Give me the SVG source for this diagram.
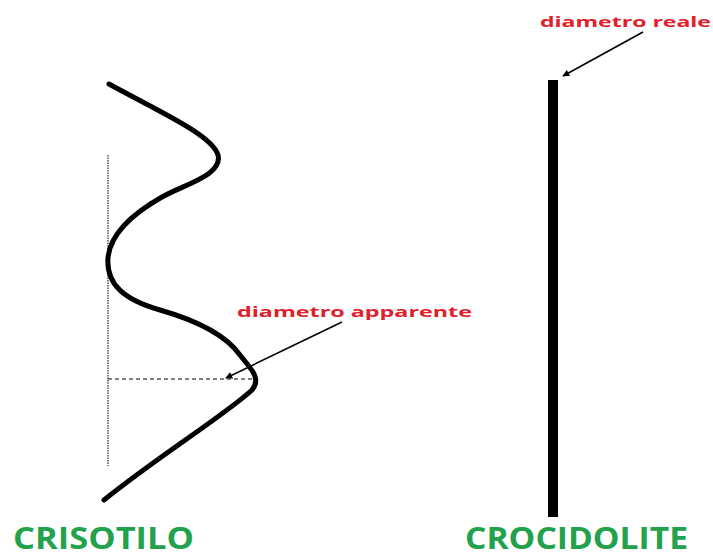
<svg xmlns="http://www.w3.org/2000/svg" width="713" height="559" viewBox="0 0 713 559">
<defs>
<style>
.lbl{font-family:"Open Sans","Liberation Sans",sans-serif;font-weight:bold;fill:#e0202a;font-size:14.5px}
.title{font-family:"Open Sans","Liberation Sans",sans-serif;font-weight:bold;fill:#22a24c;font-size:30px}
.arr{stroke:#000;stroke-width:1.6;fill:none;marker-end:url(#ah)}
</style>
<marker id="ah" viewBox="0 0 10 10" refX="9" refY="5" markerWidth="7" markerHeight="7" orient="auto" markerUnits="userSpaceOnUse">
<path d="M0,0 L10,5 L0,10 z" fill="#000"/>
</marker>
</defs>
<rect width="713" height="559" fill="#fff"/>
<g id="crisotilo">
<line x1="108" y1="155" x2="108" y2="466" stroke="#000" stroke-width="1" stroke-dasharray="1.5,1"/>
<line x1="108" y1="379" x2="257" y2="379" stroke="#000" stroke-width="1" stroke-dasharray="4,3"/>
<path d="M109,84 C160,112 212,135 218,155 C223,175 185,184 162,197 C132,214 110,235 108,258 C106,285 125,300 160,310 C195,320 225,334 240,355 C250,368 262,378 252,390 C225,415 160,455 104,500" fill="none" stroke="#000" stroke-width="5" stroke-linecap="round"/>
<text class="title" x="13" y="549" textLength="181" lengthAdjust="spacingAndGlyphs">CRISOTILO</text>
</g>
<g id="crocidolite">
<rect x="548" y="80" width="10" height="437" fill="#000"/>
<text class="title" x="465" y="549" textLength="223" lengthAdjust="spacingAndGlyphs">CROCIDOLITE</text>
</g>
<g id="label-apparente">
<text class="lbl" x="237" y="317" textLength="235" lengthAdjust="spacingAndGlyphs">diametro apparente</text>
</g>
<g id="label-reale">
<text class="lbl" x="540" y="27" textLength="171" lengthAdjust="spacingAndGlyphs">diametro reale</text>
</g>
<g id="connectors">
<line class="arr" x1="342" y1="322" x2="226" y2="378"/>
<line class="arr" x1="643" y1="32" x2="563" y2="76"/>
</g>
</svg>
